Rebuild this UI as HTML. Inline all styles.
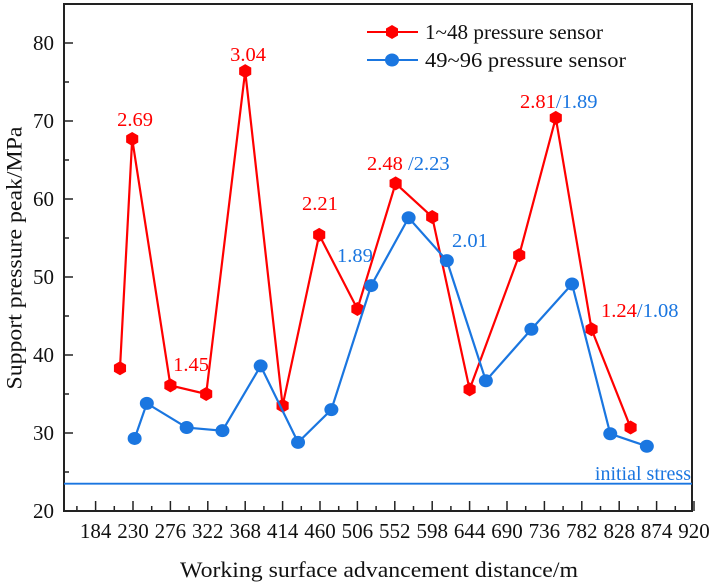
<!DOCTYPE html>
<html><head><meta charset="utf-8"><style>
html,body{margin:0;padding:0;background:#fff;}
svg{display:block;font-family:"Liberation Serif",serif;}
</style></head><body>
<svg id="chart" width="713" height="586" viewBox="0 0 713 586">
<rect x="64" y="4" width="628" height="507" fill="#fff" stroke="#222" stroke-width="2"/>
<g id="ticks"></g>
<g id="lines"></g>
<g id="ann"></g>
<text x="14" y="258" transform="rotate(-90 14 258)" text-anchor="middle" dominant-baseline="central" font-size="22" textLength="263" lengthAdjust="spacingAndGlyphs" fill="#111">Support pressure peak/MPa</text>
<text x="379" y="577" text-anchor="middle" font-size="22" textLength="398" lengthAdjust="spacingAndGlyphs" fill="#111">Working surface advancement distance/m</text>
<g>
<g>
<line x1="367" y1="32" x2="418" y2="32" stroke="#f00" stroke-width="2"/>
<polygon points="392,25 398,28.5 398,35.5 392,39 386,35.5 386,28.5" fill="#f00"/>
<text x="425" y="39" font-size="21" textLength="178" lengthAdjust="spacingAndGlyphs" fill="#111">1~48 pressure sensor</text>
</g>
<g>
<line x1="367" y1="60" x2="418" y2="60" stroke="#1a76e0" stroke-width="2"/>
<ellipse cx="392" cy="60" rx="7" ry="6.5" fill="#1a76e0"/>
<text x="425" y="67" font-size="21" textLength="201" lengthAdjust="spacingAndGlyphs" fill="#111">49~96 pressure sensor</text>
</g>
</g>
</svg>
<script>
const redX=[214,229,276,320,368,414,459,506,553,598,644,705,750,794,842];
const redY=[38.3,67.7,36.1,35.0,76.4,33.5,55.4,45.9,62.0,57.7,35.6,52.8,70.4,43.3,30.7];
const blueX=[232,247,296,340,387,433,474,523,569,616,664,720,770,817,862];
const blueY=[29.3,33.8,30.7,30.3,38.6,28.8,33.0,48.9,57.6,52.1,36.7,43.3,49.1,29.9,28.3];
const xTicks=[184,230,276,322,368,414,460,506,552,598,644,690,736,782,828,874,920];
const yTicks=[20,30,40,50,60,70,80];
const initialStress=23.5;
const NS="http://www.w3.org/2000/svg";
const X=v=>133+(v-230)*37.4/46;
const Y=v=>511-(v-20)*7.8;
function mk(tag,attrs,parent){const e=document.createElementNS(NS,tag);for(const k in attrs)e.setAttribute(k,attrs[k]);parent.appendChild(e);return e;}
const tk=document.getElementById('ticks');
for(let v=161;v<=920;v+=23){
  const major=xTicks.includes(v);
  const t=mk('line',{x1:X(v),x2:X(v),y1:511,y2:major?501:506,stroke:'#222','stroke-width':1.5},tk);
  
  
}
xTicks.forEach(v=>{
  const t=mk('text',{x:X(v),y:538,'text-anchor':'middle','font-size':21,fill:'#111'},tk);
  t.textContent=v;
  
  
});
for(let v=20;v<=85;v+=5){
  const major=yTicks.includes(v);
  const t=mk('line',{x1:64,x2:major?73:69,y1:Y(v),y2:Y(v),stroke:'#222','stroke-width':1.5},tk);
  
  
}
yTicks.forEach(v=>{
  const t=mk('text',{x:54,y:Y(v)+7,'text-anchor':'end','font-size':21,fill:'#111'},tk);
  t.textContent=v;
  
  
});
const lg=document.getElementById('lines');
const sl=mk('line',{x1:64,x2:692,y1:Y(initialStress),y2:Y(initialStress),stroke:'#1a76e0','stroke-width':1.8},lg);


function series(xs,ys,col,hex,name){
  const p=mk('polyline',{points:xs.map((x,i)=>X(x)+','+Y(ys[i])).join(' '),fill:'none',stroke:col,'stroke-width':2.2},lg);
  
  
  xs.forEach((x,i)=>{
    const cx=X(x),cy=Y(ys[i]);let m;
    if(hex){const r=7;m=mk('polygon',{points:[0,1,2,3,4,5].map(k=>{const a=Math.PI/3*k-Math.PI/2;return (cx+r*Math.cos(a))+','+(cy+r*Math.sin(a));}).join(' '),fill:col},lg);}
    else m=mk('ellipse',{cx:cx,cy:cy,rx:7,ry:6.5,fill:col},lg);
    
    
  });
}
series(redX,redY,'#f00',true,'red-series');
series(blueX,blueY,'#1a76e0',false,'blue-series');
const an=document.getElementById('ann');
const R='#f00',B='#1a76e0';
const labels=[[135,126,'middle',[['2.69',R]]],[248,61,'middle',[['3.04',R]]],[191,371,'middle',[['1.45',R]]],[302,210,'start',[['2.21',R]]],[337,262,'start',[['1.89',B]]],[367,170,'start',[['2.48',R],[' /2.23',B]]],[452,247,'start',[['2.01',B]]],[520,108,'start',[['2.81',R],['/1.89',B]]],[601,317,'start',[['1.24',R],['/1.08',B]]]];
labels.forEach(l=>{
  const t=mk('text',{x:l[0],y:l[1],'text-anchor':l[2],'font-size':20.5},an);
  l[3].forEach(s=>{const ts=mk('tspan',{fill:s[1]},t);ts.textContent=s[0];});
  
  
});
const it=mk('text',{x:691,y:480,'text-anchor':'end','font-size':20,fill:B},an);
it.textContent='initial stress';


</script>
</body></html>
